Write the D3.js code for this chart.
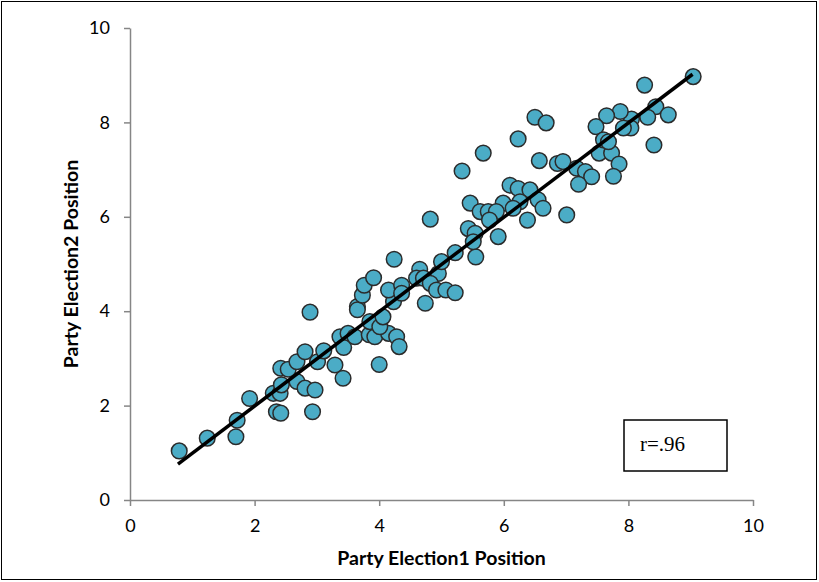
<!DOCTYPE html>
<html>
<head>
<meta charset="utf-8">
<script src="https://cdn.jsdelivr.net/npm/d3@7"></script>
<style>
  html, body { margin: 0; padding: 0; background: #fff; }
  svg { display: block; }
</style>
</head>
<body>
<svg id="chart" width="819" height="582"></svg>
<script>
// ---- Data ----
const election1 = [
  0.79,1.24,1.70,1.72,1.92,2.35,2.42,2.93,2.30,2.41,2.43,2.68,2.81,2.97,2.42,2.54,2.68,3.01,2.81,3.11,3.29,3.42,2.89,
  3.37,3.50,3.43,3.61,3.84,3.93,4.15,4.28,4.32,4.00,3.85,4.01,4.06,4.23,4.15,4.36,4.36,3.65,3.65,3.73,3.76,3.91,4.24,4.65,4.95,4.60,4.71,4.82,4.92,5.07,5.22,4.74,5.00,5.22,5.55,5.91,4.82,
  5.43,5.54,5.51,
  5.33,5.67,6.23,6.57,6.86,6.95,7.53,7.73,7.85,7.17,7.31,7.41,7.76,7.20,6.10,6.23,6.42,6.55,6.63,6.26,5.99,5.46,5.62,5.75,5.88,6.15,5.77,6.38,7.01,
  9.04,8.26,8.44,8.64,8.31,8.05,8.04,7.87,7.65,7.48,7.92,8.41,7.60,7.68,
  6.50,6.68
];
const election2 = [
  1.04,1.31,1.34,1.69,2.15,1.87,1.84,1.87,2.26,2.26,2.44,2.51,2.37,2.33,2.79,2.77,2.93,2.93,3.14,3.16,2.86,2.58,3.98,
  3.46,3.53,3.23,3.46,3.50,3.46,3.53,3.46,3.25,2.87,3.78,3.67,3.88,4.20,4.45,4.55,4.38,4.10,4.03,4.34,4.55,4.71,5.10,4.89,4.80,4.70,4.70,4.59,4.45,4.45,4.39,4.17,5.05,5.24,5.15,5.58,5.95,
  5.75,5.65,5.47,
  6.97,7.35,7.65,7.19,7.13,7.17,7.35,7.35,7.12,7.03,6.96,6.85,6.86,6.69,6.67,6.60,6.57,6.36,6.18,6.32,6.29,6.29,6.11,6.11,6.11,6.18,5.93,5.93,6.04,
  8.97,8.79,8.33,8.16,8.11,8.07,7.88,8.23,8.14,7.91,7.88,7.52,7.63,7.59,
  8.11,7.99
];
const fitX = [0.77, 9.03];
const fitY = [0.76, 9.02];
const xTicks = [0, 2, 4, 6, 8, 10];
const yTicks = [0, 2, 4, 6, 8, 10];
const xTitle = "Party Election1 Position";
const yTitle = "Party Election2 Position";
const rLabel = "r=.96";

// ---- Drawing ----
const svg = d3.select("#chart");
const W = 819, H = 582;
const x = d3.scaleLinear().domain([0, 10]).range([130, 753]);
const y = d3.scaleLinear().domain([0, 10]).range([500, 28]);

svg.append("rect").attr("x", 0).attr("y", 0).attr("width", W).attr("height", H).attr("fill", "#fff");
svg.append("rect").attr("x", 1.5).attr("y", 1.5).attr("width", 815).attr("height", 578)
  .attr("fill", "none").attr("stroke", "#000").attr("stroke-width", 1);

const font = "Lato, 'Open Sans', sans-serif";

const xAxis = svg.append("g").attr("transform", `translate(0,${y(0)})`)
  .call(d3.axisBottom(x).tickValues(xTicks).tickSize(6).tickSizeOuter(0).tickPadding(13).tickFormat(d3.format("d")));
const yAxis = svg.append("g").attr("transform", `translate(${x(0)},0)`)
  .call(d3.axisLeft(y).tickValues(yTicks).tickSize(6).tickSizeOuter(0).tickPadding(14).tickFormat(d3.format("d")));
[xAxis, yAxis].forEach(g => {
  g.select(".domain").attr("stroke", "#868686").attr("stroke-width", 1.5);
  g.selectAll(".tick line").attr("stroke", "#868686").attr("stroke-width", 1.5);
  g.selectAll(".tick text").attr("fill", "#000").style("font-family", font).style("font-size", "18px");
});

const pts = election1.map((v, i) => ({ a: v, b: election2[i] }));
svg.append("g").selectAll("circle").data(pts).join("circle")
  .attr("cx", d => x(d.a)).attr("cy", d => y(d.b)).attr("r", 7.8)
  .attr("fill", "#4BACC6").attr("stroke", "#2b2b2b").attr("stroke-width", 1.5);

svg.append("line")
  .attr("x1", x(fitX[0])).attr("y1", y(fitY[0]))
  .attr("x2", x(fitX[1])).attr("y2", y(fitY[1]))
  .attr("stroke", "#000").attr("stroke-width", 3.5);

svg.append("text").attr("x", (x(0) + x(10)) / 2).attr("y", 565)
  .attr("text-anchor", "middle").style("font-family", font).style("font-weight", "bold").style("font-size", "19.5px")
  .text(xTitle);
svg.append("text").attr("transform", `translate(78,${(y(0) + y(10)) / 2}) rotate(-90)`)
  .attr("text-anchor", "middle").style("font-family", font).style("font-weight", "bold").style("font-size", "19.5px")
  .text(yTitle);

svg.append("rect").attr("x", 624).attr("y", 420).attr("width", 103).attr("height", 51)
  .attr("fill", "#fff").attr("stroke", "#000").attr("stroke-width", 1.5);
svg.append("text").attr("x", 640).attr("y", 451)
  .style("font-family", "'Liberation Serif', 'Times New Roman', serif").style("font-size", "21px")
  .text(rLabel);
</script>
</body>
</html>
